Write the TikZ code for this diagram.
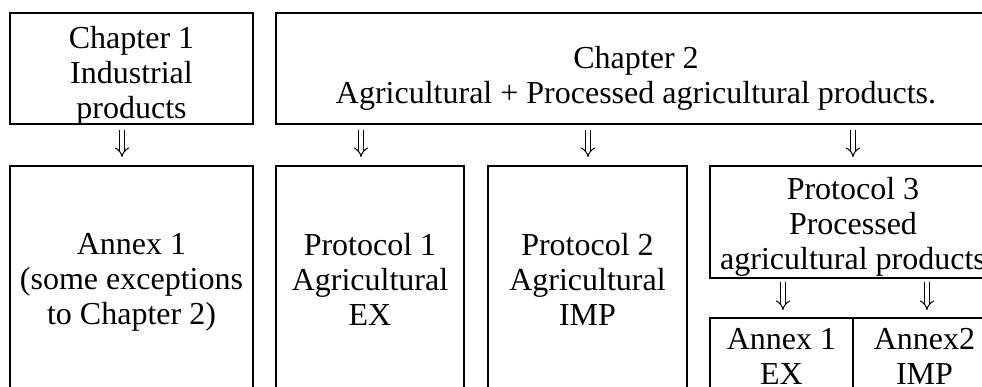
\documentclass[tikz,border=0pt]{standalone}
\usepackage{fontspec}
\setmainfont{Liberation Serif}
\usetikzlibrary{arrows.meta}
\begin{document}
\begin{tikzpicture}[x=1pt,y=-1pt,
  box/.style={draw, line width=2.5pt, rectangle, inner sep=0pt, outer sep=0pt},
  txt/.style={align=center, inner sep=0pt, font=\fontsize{32}{35}\selectfont},
  imp/.style={double, double distance=4pt, line width=1pt, -{Implies}}]
\clip (0,0) rectangle (982,387);
% boxes
\node[box, minimum width=243pt, minimum height=111pt] (ch1) at (131.5,68.5) {};
\node[box, minimum width=720pt, minimum height=111pt] (ch2) at (636,68.5) {};
\node[box, minimum width=243pt, minimum height=264pt] (ann1) at (131.5,298) {};
\node[box, minimum width=188pt, minimum height=264pt] (p1) at (370,298) {};
\node[box, minimum width=199pt, minimum height=264pt] (p2) at (587.5,298) {};
\node[box, minimum width=286pt, minimum height=112pt] (p3) at (853,222) {};
\node[box, minimum width=143pt, minimum height=112pt] (a1) at (781.5,374) {};
\node[box, minimum width=143pt, minimum height=112pt] (a2) at (924.5,374) {};
% texts
\node[txt] (t1) at (131.5,75.5) {Chapter 1\\Industrial\\products};
\node[txt] (t2) at (636,78.5) {Chapter 2\\Agricultural + Processed agricultural products.};
\node[txt] (t3) at (131.5,282) {Annex 1\\(some exceptions\\to Chapter 2)};
\node[txt] (t4) at (370,279) {Protocol 1\\Agricultural\\EX};
\node[txt] (t5) at (587.5,279) {Protocol 2\\Agricultural\\IMP};
\node[txt] (t6) at (853,226.5) {Protocol 3\\Processed\\agricultural products};
\node[txt] (t7) at (781.5,356.5) {Annex 1\\EX};
\node[txt] (t8) at (924.5,356.5) {Annex2\\IMP};
% arrows
\draw[imp, shorten <=6pt, shorten >=9pt] ([xshift=-9.5pt]ch1.south) -- ([xshift=-9.5pt]ann1.north);
\draw[imp, shorten <=6pt, shorten >=9pt] ([xshift=-9pt]p1.north |- ch2.south) -- ([xshift=-9pt]p1.north);
\draw[imp, shorten <=6pt, shorten >=9pt] ([xshift=0.5pt]p2.north |- ch2.south) -- ([xshift=0.5pt]p2.north);
\draw[imp, shorten <=6pt, shorten >=9pt] (p3.north |- ch2.south) -- (p3.north);
\draw[imp, shorten <=4pt, shorten >=8pt] ([xshift=1.5pt]a1.north |- p3.south) -- ([xshift=1.5pt]a1.north);
\draw[imp, shorten <=4pt, shorten >=8pt] ([xshift=2.5pt]a2.north |- p3.south) -- ([xshift=2.5pt]a2.north);
\end{tikzpicture}
\end{document}
